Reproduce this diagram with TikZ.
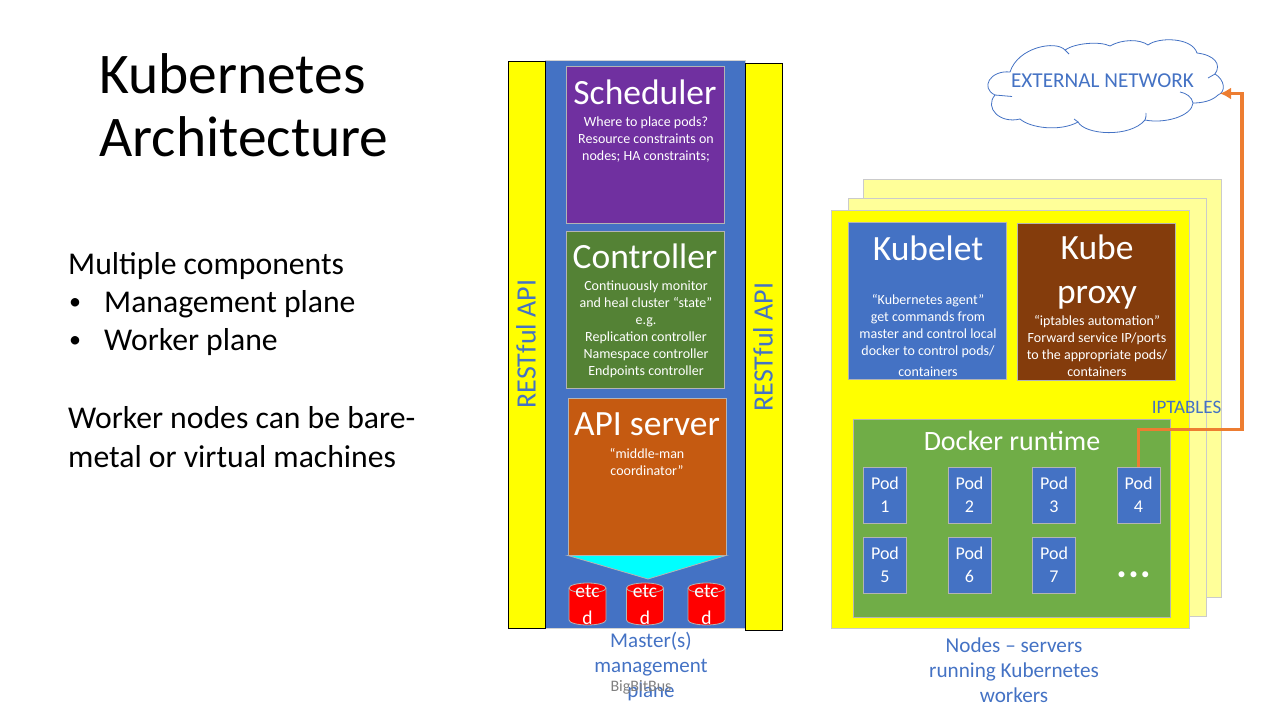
\documentclass[tikz,border=0pt]{standalone}
\usepackage{fontspec}
\setmainfont{Carlito}
\usetikzlibrary{arrows.meta}
\definecolor{msblue}{HTML}{4472C4}
\definecolor{boxline}{HTML}{B4B4B4}
\definecolor{puryellow}{HTML}{FFFF00}
\definecolor{purcyan}{HTML}{00FFFF}
\definecolor{purred}{HTML}{FF0000}
\definecolor{palepage}{HTML}{FFFF99}
\definecolor{schedfill}{HTML}{7030A0}
\definecolor{ctrlfill}{HTML}{548235}
\definecolor{apifill}{HTML}{C55A11}
\definecolor{proxyfill}{HTML}{843C0C}
\definecolor{dockerfill}{HTML}{70AD47}
\definecolor{linkorange}{HTML}{ED7D31}
\tikzset{
  box/.style={draw=boxline,line width=0.8,inner sep=0,minimum width=158,minimum height=157,fill=#1},
  page/.style={draw=boxline!70,line width=0.8,inner sep=0,minimum width=358,minimum height=418,fill=#1},
  apibar/.style={draw=black,line width=1,inner sep=0,minimum width=37,minimum height=567,fill=puryellow},
  podbox/.style={draw=boxline,line width=0.8,inner sep=0,minimum width=43,minimum height=56,fill=msblue,
    text=white,align=center,font=\fontsize{18}{23}\selectfont},
  etcdcyl/.style={draw=boxline,line width=0.8,fill=purred},
  headtext/.style={text=white,align=center,inner sep=0,font=\fontsize{35.5}{44}\selectfont},
  smalltext/.style={text=white,align=center,inner sep=0,font=\fontsize{14}{17}\selectfont},
  bluetext/.style={text=msblue,align=center,inner sep=0,font=\fontsize{21}{25}\selectfont},
  bodytext/.style={anchor=west,inner sep=0,font=\fontsize{31.7}{35}\selectfont},
}
\begin{document}
\begin{tikzpicture}[x=1pt,y=-1pt]
  \useasboundingbox (0,0) rectangle (1280,720);
  % title and left column
  \node[anchor=west,inner sep=0,font=\fontsize{57.5}{63}\selectfont,align=left] (title) at (99,105) {Kubernetes\\Architecture};
  \node[bodytext] (multi) at (68,266) {Multiple components};
  \node[bodytext,font=\fontsize{24}{30}\selectfont] (bul1) at (69,304) {•};
  \node[bodytext] (mgmt) at (104,304) {Management plane};
  \node[bodytext,font=\fontsize{24}{30}\selectfont] (bul2) at (69,342) {•};
  \node[bodytext] (work) at (104,342) {Worker plane};
  \node[bodytext] (bare) at (68,418) {Worker nodes can be bare-};
  \node[bodytext] (virt) at (68,457) {metal or virtual machines};
  % master
  \node[draw=boxline!60,line width=0.8,inner sep=0,minimum width=200,minimum height=568,fill=msblue] (master) at (645,344) {};
  \node[apibar] (restl) at (526.5,344.5) {};
  \node[apibar] (restr) at (763.5,346.5) {};
  \node[text=msblue,rotate=90,inner sep=0,font=\fontsize{28}{30}\selectfont] (restltxt) at (526,344) {RESTful API};
  \node[text=msblue,rotate=90,inner sep=0,font=\fontsize{28}{30}\selectfont] (restrtxt) at (763,347) {RESTful API};
  \node[box=schedfill] (sched) at (645,144.5) {};
  \node[box=ctrlfill] (ctrl) at (645,309.5) {};
  \node[box=apifill] (api) at (647,476.5) {};
  \node[headtext] (schedhead) at (645,92) {Scheduler};
  \node[smalltext] (schedtxt) at (646,139.5) {Where to place pods?\\Resource constraints on\\nodes; HA constraints;};
  \node[headtext] (ctrlhead) at (645,256) {Controller};
  \node[smalltext] (ctrltxt) at (646,329) {Continuously monitor\\and heal cluster “state”\\e.g.\\Replication controller\\Namespace controller\\Endpoints controller};
  \node[headtext] (apihead) at (647,424) {API server};
  \node[smalltext] (apitxt) at (647,462) {“middle-man\\coordinator”};
  \draw[draw=boxline,line width=0.8,fill=purcyan] (api.south west) -- (api.south east) -- (648,579) -- cycle;
  \foreach \n/\x in {1/587.5,2/645,3/706.5}{
    \draw[etcdcyl] (\x-18.5,588) arc[start angle=180,end angle=0,x radius=18.5pt,y radius=5pt] -- ++(0,32)
      arc[start angle=0,end angle=-180,x radius=18.5pt,y radius=5pt] -- cycle;
    \draw[boxline,line width=0.8] (\x-18.5,588) arc[start angle=180,end angle=360,x radius=18.5pt,y radius=5pt];
    \node[text=white,align=center,inner sep=0,font=\fontsize{19.5}{27}\selectfont] (etcd\n) at (\x,605) {etc\\d};
  }
  \node[bluetext] (mastertxt) at (651,667) {Master(s)\\management\\plane};
  \node[text=gray,inner sep=0,font=\fontsize{16}{18}\selectfont] (brand) at (641,687) {BigBitBus};
  % worker nodes
  \node[page=palepage] (page3) at (1042,388) {};
  \node[page=palepage] (page2) at (1027,407) {};
  \node[page=puryellow] (page1) at (1010.5,419) {};
  \node[box=msblue] (kubelet) at (927,300.5) {};
  \node[box=proxyfill] (proxy) at (1096,301.5) {};
  \node[headtext] (kubelethead) at (928,248) {Kubelet};
  \node[smalltext] (kubelettxt) at (928,335) {“Kubernetes agent”\\get commands from\\master and control local\\docker to control pods/\\[4]containers};
  \node[headtext] (proxyhead) at (1097,272) {Kube\\proxy};
  \node[smalltext] (proxytxt) at (1097,346) {“iptables automation”\\Forward service IP/ports\\to the appropriate pods/\\containers};
  \node[text=msblue,inner sep=0,font=\fontsize{19}{21}\selectfont] (iptables) at (1186.5,407) {IPTABLES};
  \node[draw=boxline,line width=0.8,inner sep=0,minimum width=317,minimum height=198,fill=dockerfill] (docker) at (1011.5,518) {};
  \node[text=white,inner sep=0,font=\fontsize{28}{30}\selectfont] (dockerhead) at (1012,441) {Docker runtime};
  \foreach \n/\x/\y in {1/885/495,2/969.5/495,3/1054/495,4/1138.5/495,5/885/565,6/969.5/565,7/1054/565}{
    \node[podbox] (pod\n) at (\x,\y) {Pod\\\n};
  }
  \node[text=white,inner sep=0,font=\fontsize{17}{20}\selectfont] (dots) at (1133.5,576) {•\hspace{3.5pt}•\hspace{3.5pt}•};
  \node[bluetext,font=\fontsize{21.2}{25}\selectfont] (nodestxt) at (1014,670) {Nodes – servers\\running Kubernetes\\workers};
  % cloud
  \draw[msblue,line width=0.8,fill=white]
    (1010,72) .. controls (1018,47) and (1056,40) .. (1065,50)
    .. controls (1075,43) and (1100,41) .. (1110,46)
    .. controls (1122,39) and (1140,39) .. (1148,45)
    .. controls (1158,37) and (1192,37) .. (1197,53)
    .. controls (1214,55) and (1222,64) .. (1215,74)
    .. controls (1225,80) and (1226,92) .. (1218,95)
    .. controls (1212,101) and (1202,103) .. (1193,103)
    .. controls (1192,116) and (1165,124) .. (1145,120)
    .. controls (1130,138) and (1085,135) .. (1078,122)
    .. controls (1060,132) and (1030,128) .. (1020,119)
    .. controls (1000,124) and (984,108) .. (995,95)
    .. controls (980,88) and (990,70) .. (1010,72) -- cycle;
  \draw[msblue,line width=0.8] (1065,50) -- (1069,54) (1193,103) .. controls (1192,97) and (1186,93) .. (1180,92)
    (1145,120) .. controls (1146,118) and (1146,116) .. (1146,113) (1078,122) -- (1074,119) (995,95) -- (1012,96.5)
    (1215,74) -- (1208,78);
  \node[text=msblue,inner sep=0,font=\fontsize{21.2}{24}\selectfont] (extnet) at (1102.5,81) {EXTERNAL NETWORK};
  \coordinate (cloudtip) at (1220,93.5);
  \coordinate (bendlow) at (1242,429.5);
  % link
  \draw[linkorange,line width=3.4,-{Latex[length=11,width=12]}] (pod4.north) |- (bendlow) |- (cloudtip);
\end{tikzpicture}
\end{document}
